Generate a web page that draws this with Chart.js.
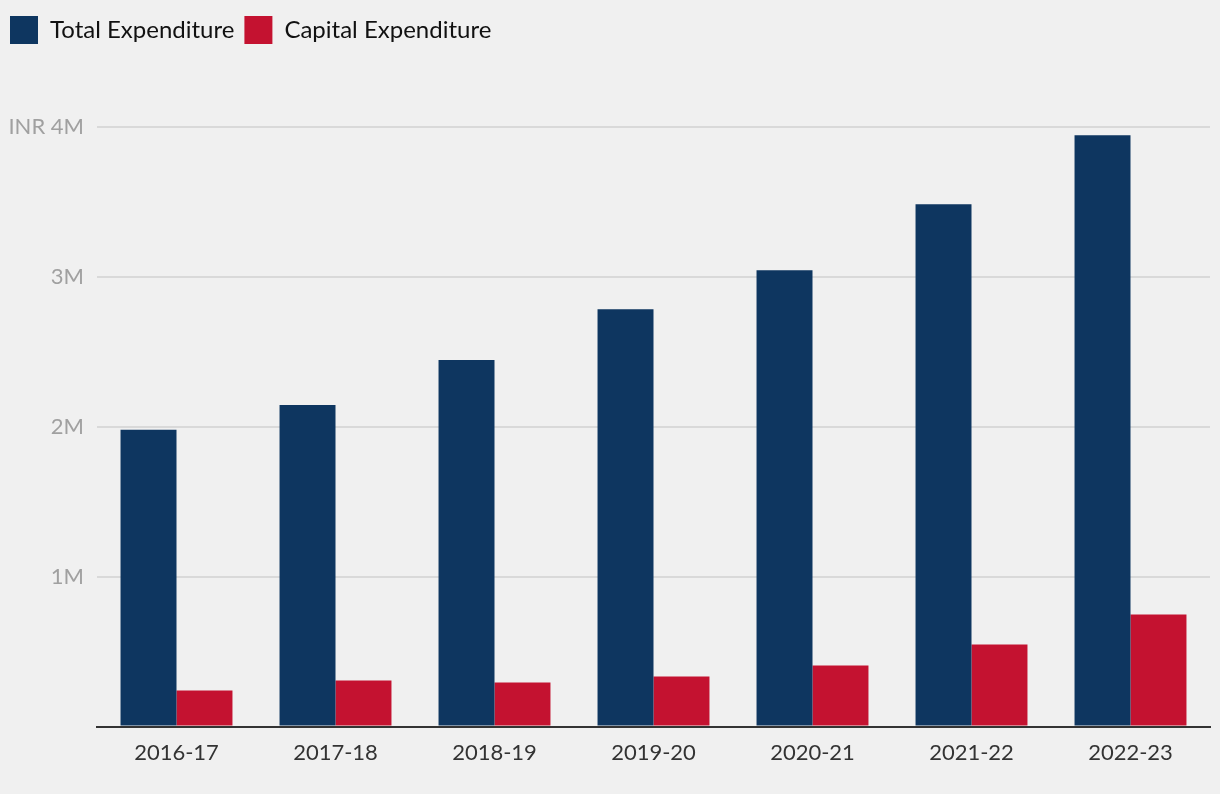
<!DOCTYPE html>
<html>
<head>
<meta charset="utf-8">
<script src="https://cdn.jsdelivr.net/npm/chart.js@4.4.0/dist/chart.umd.min.js"></script>
<style>
  html, body { margin: 0; padding: 0; background: #f0f0f0; }
  #wrap { width: 1220px; height: 794px; }
</style>
</head>
<body>
<div id="wrap"><canvas id="barChart"></canvas></div>
<script>
var years = ["2016-17", "2017-18", "2018-19", "2019-20", "2020-21", "2021-22", "2022-23"];
var totalExp = [1980000, 2145000, 2445000, 2785000, 3045000, 3485000, 3945000];
var capitalExp = [240000, 307000, 294000, 334000, 407000, 548000, 748000];
var yTicks = [0, 1000000, 2000000, 3000000, 4000000];

// legend spacing under the boxes
var legendGap = {
  id: 'legendGap',
  beforeInit: function (chart) {
    var fit = chart.legend.fit;
    chart.legend.fit = function () {
      fit.bind(chart.legend)();
      this.height += 73;
    };
  }
};

var ctx = document.getElementById("barChart").getContext('2d');
var myBarChart = new Chart(ctx, {
  type: 'bar',
  data: {
    labels: years,
    datasets: [{
      label: "Total Expenditure",
      data: totalExp,
      backgroundColor: '#0e3660'
    }, {
      label: "Capital Expenditure",
      data: capitalExp,
      backgroundColor: '#c41230'
    }]
  },
  options: {
    responsive: true,
    maintainAspectRatio: false,
    animation: false,
    layout: { padding: { left: 0, right: 10, top: 6, bottom: 23 } },
    datasets: { bar: { categoryPercentage: 0.704, barPercentage: 1.0 } },
    plugins: {
      tooltip: { enabled: false },
      legend: {
        position: 'top',
        align: 'start',
        labels: {
          boxWidth: 28,
          boxHeight: 28,
          padding: 10,
          color: '#111',
          font: { family: 'Lato', size: 24 }
        }
      }
    },
    scales: {
      x: {
        grid: { display: false },
        border: { color: '#333', width: 2 },
        ticks: { color: '#333', padding: 5, font: { family: 'Lato', size: 22 } }
      },
      y: {
        min: 0,
        max: 4000000,
        afterFit: function (scale) { scale.width = 97; },
        afterBuildTicks: function (scale) {
          scale.ticks = yTicks.map(function (v) { return { value: v }; });
        },
        grid: { color: '#d9d9d9', lineWidth: 2, drawTicks: false },
        border: { display: false },
        ticks: {
          color: '#a0a0a0',
          padding: 13,
          font: { family: 'Lato', size: 22 },
          callback: function (v) {
            if (v === 0) return '';
            if (v === 4000000) return 'INR 4M';
            return (v / 1000000) + 'M';
          }
        }
      }
    }
  },
  plugins: [legendGap]
});
</script>
</body>
</html>
